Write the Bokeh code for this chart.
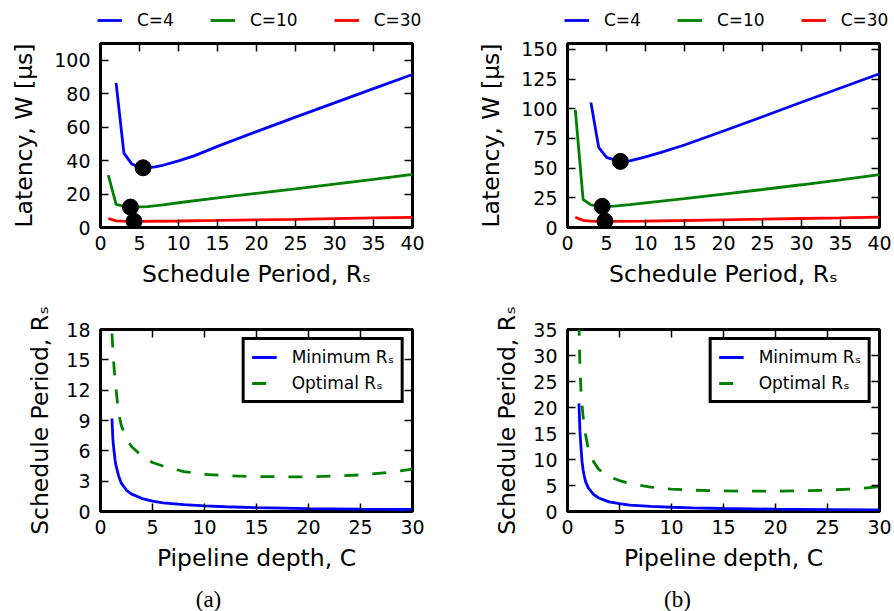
from bokeh.plotting import figure
from bokeh.models import FixedTicker, LinearAxis, Range1d, Legend, LegendItem, Label
from bokeh.layouts import column, row
from bokeh.embed import file_html
from bokeh.resources import INLINE

# ---------------- data ----------------
# (a) latency vs schedule period
rs_a_c4 = [2, 3, 4, 5, 6, 7, 8, 10, 12, 15, 20, 25, 30, 35, 40]
w_a_c4 = [86.5, 44.5, 38.0, 36.0, 35.7, 36.3, 37.2, 39.8, 42.8, 48.5, 57.3, 66.0, 74.5, 83.0, 91.5]
rs_a_c10 = [1, 2, 3, 4, 5, 6, 8, 10, 15, 20, 25, 30, 35, 40]
w_a_c10 = [31.3, 13.8, 12.7, 12.2, 12.3, 12.5, 13.5, 14.8, 17.7, 20.4, 23.1, 25.9, 28.8, 31.8]
rs_a_c30 = [1, 2, 3, 4, 5, 10, 15, 20, 25, 30, 35, 40]
w_a_c30 = [5.4, 4.0, 3.8, 3.7, 3.7, 3.9, 4.2, 4.6, 4.9, 5.3, 5.7, 6.1]
opt_a_rs = [5.46, 3.84, 4.3]
opt_a_w = [35.7, 12.2, 3.7]

# (b) latency vs schedule period
rs_b_c4 = [3, 4, 5, 6, 7, 8, 10, 12, 15, 20, 25, 30, 35, 40]
w_b_c4 = [105.3, 67.5, 59.0, 57.0, 55.8, 56.2, 59.5, 63.3, 69.5, 81.3, 93.3, 105.5, 117.5, 129.5]
rs_b_c10 = [1, 2, 3, 4, 5, 6, 8, 10, 15, 20, 25, 30, 35, 40]
w_b_c10 = [99.0, 23.6, 19.0, 18.0, 17.8, 18.0, 19.2, 20.8, 24.4, 28.2, 32.0, 36.0, 40.2, 44.5]
rs_b_c30 = [1, 2, 3, 4, 5, 10, 15, 20, 25, 30, 35, 40]
w_b_c30 = [8.7, 6.0, 5.3, 5.1, 5.1, 5.4, 5.9, 6.5, 7.0, 7.6, 8.1, 8.7]
opt_b_rs = [6.78, 4.45, 4.8]
opt_b_w = [55.7, 17.8, 5.4]

# (a) schedule period vs pipeline depth
c_min_a = [1.1, 1.2, 1.3, 1.4, 1.5, 1.75, 2, 2.5, 3, 4, 5, 6, 8, 10, 12, 15, 20, 25, 30]
rs_min_a = [9.2, 7.0, 6.0, 5.1, 4.5, 3.5, 2.8, 2.1, 1.72, 1.28, 1.02, 0.86, 0.67, 0.55, 0.47, 0.39, 0.29, 0.23, 0.2]
c_opt_a = [1.1, 1.2, 1.3, 1.4, 1.5, 1.75, 2, 2.5, 3, 4, 5, 6, 8, 10, 12, 15, 20, 25, 28, 30]
rs_opt_a = [17.6, 15.8, 14.3, 13.0, 12.0, 9.7, 8.5, 7.2, 6.4, 5.45, 4.85, 4.5, 3.95, 3.68, 3.55, 3.45, 3.42, 3.62, 3.9, 4.2]

# (b) schedule period vs pipeline depth
c_min_b = [1.1, 1.2, 1.3, 1.4, 1.5, 1.6, 1.75, 2, 2.5, 3, 4, 5, 6, 8, 10, 12, 15, 20, 25, 30]
rs_min_b = [20.8, 15.4, 12.2, 9.6, 8.0, 6.9, 5.7, 4.55, 3.3, 2.6, 1.85, 1.5, 1.22, 0.98, 0.82, 0.7, 0.58, 0.44, 0.36, 0.3]
c_opt_b = [1.1, 1.15, 1.2, 1.3, 1.4, 1.5, 1.75, 2, 2.5, 3, 4, 5, 6, 8, 10, 12, 15, 20, 25, 28, 30]
rs_opt_b = [36.5, 31.5, 27.5, 23.2, 20.4, 18.3, 14.6, 12.1, 9.6, 8.1, 6.7, 5.95, 5.35, 4.7, 4.3, 4.1, 3.95, 3.9, 4.1, 4.4, 4.75]

series_labels = ["C=4", "C=10", "C=30"]
series_colors = ["#0000ff", "#008000", "#ff0000"]
bottom_labels = ["Minimum R\u209b", "Optimal R\u209b"]
xticks_top = [0, 5, 10, 15, 20, 25, 30, 35, 40]
xticks_bot = [0, 5, 10, 15, 20, 25, 30]
yticks_a_top = [0, 20, 40, 60, 80, 100]
yticks_b_top = [0, 25, 50, 75, 100, 125, 150]
yticks_a_bot = [0, 3, 6, 9, 12, 15, 18]
yticks_b_bot = [0, 5, 10, 15, 20, 25, 30, 35]
captions = ["(a)", "(b)"]

FONT = "DejaVu Sans"
TICK_FS = "19px"
LABEL_FS = "23.5px"
LEG_FS = "17px"
LW = 2.8
W = 447


def make_fig(width, height, left, right, top, bottom, xr, yr, xticks, yticks, xlabel, ylabel, ystand):
    p = figure(width=width, height=height, x_range=Range1d(*xr), y_range=Range1d(*yr),
               output_backend="svg", toolbar_location=None, tools="")
    p.min_border_left = left
    p.min_border_right = right
    p.min_border_top = top
    p.min_border_bottom = bottom
    p.grid.visible = False
    p.outline_line_color = "black"
    p.outline_line_width = 3
    p.outline_line_alpha = 1
    p.background_fill_color = "white"
    p.border_fill_color = "white"
    p.xaxis.ticker = FixedTicker(ticks=xticks)
    p.yaxis.ticker = FixedTicker(ticks=yticks)
    p.xaxis.axis_label = xlabel
    p.yaxis.axis_label = ylabel
    for ax in (p.xaxis[0], p.yaxis[0]):
        ax.axis_line_color = None
        ax.major_tick_in = 8
        ax.major_tick_out = 0
        ax.major_tick_line_color = "black"
        ax.major_tick_line_width = 1.5
        ax.minor_tick_line_color = None
        ax.major_label_text_font = FONT
        ax.major_label_text_font_size = TICK_FS
        ax.major_label_text_color = "black"
        ax.axis_label_text_font = FONT
        ax.axis_label_text_font_size = LABEL_FS
        ax.axis_label_text_font_style = "normal"
        ax.axis_label_text_color = "black"
    p.xaxis.major_label_standoff = 8
    p.yaxis.major_label_standoff = 10
    p.xaxis.axis_label_standoff = 7
    p.yaxis.axis_label_standoff = ystand
    for side, t in (("above", xticks), ("right", yticks)):
        ax = LinearAxis(ticker=FixedTicker(ticks=t), axis_line_color=None,
                        major_tick_in=8, major_tick_out=0, major_tick_line_color="black",
                        major_tick_line_width=1.5, minor_tick_line_color=None,
                        major_label_text_font_size="0px", major_label_standoff=0,
                        major_label_text_alpha=0)
        p.add_layout(ax, side)
    return p


def bare_fig(width, height, yr=(0, 1)):
    p = figure(width=width, height=height, x_range=Range1d(0, 1), y_range=Range1d(*yr),
               x_axis_type=None, y_axis_type=None, output_backend="svg",
               toolbar_location=None, tools="", min_border=0)
    p.outline_line_color = None
    p.background_fill_color = "white"
    p.border_fill_color = "white"
    return p


def header(gx, xs, ys):
    # the series are drawn here only to key the legend; the view range hides them
    h = bare_fig(W, 30, yr=(1000, 1001))
    rs = [h.line(x, y, line_color=c, line_width=LW) for x, y, c in zip(xs, ys, series_colors)]
    items = [LegendItem(label=l, renderers=[r]) for l, r in zip(series_labels, rs)]
    leg = Legend(items=items, orientation="horizontal", location=(gx, 0),
                 glyph_width=25, glyph_height=18, label_height=18, label_standoff=15,
                 spacing=36, padding=0, margin=0, border_line_color=None,
                 background_fill_alpha=0, label_text_font=FONT, label_text_font_size=LEG_FS,
                 label_text_color="black")
    h.add_layout(leg)
    return h


def footer(text, cx):
    f = bare_fig(W, 31)
    f.add_layout(Label(x=cx, y=12, x_units="screen", y_units="screen", text=text,
                       text_font="Liberation Serif", text_font_size="23px",
                       text_align="center", text_baseline="middle", text_color="black"))
    return f


def top_panel(p, xs, ys, ox, oy):
    for x, y, c in zip(xs, ys, series_colors):
        p.line(x, y, line_color=c, line_width=LW)
    p.scatter(ox, oy, size=16, fill_color="black", line_color="black", marker="circle")


def bottom_panel(p, cm, rm, co, ro):
    r1 = p.line(cm, rm, line_color="#0000ff", line_width=LW)
    r2 = p.line(co, ro, line_color="#008000", line_width=LW, line_dash="14 14")
    leg = Legend(items=[LegendItem(label=bottom_labels[0], renderers=[r1]),
                        LegendItem(label=bottom_labels[1], renderers=[r2])],
                 location="top_right", margin=8, padding=7, spacing=6,
                 glyph_width=25, glyph_height=20, label_height=20, label_standoff=15,
                 border_line_color="black", border_line_width=3, border_line_alpha=1,
                 background_fill_color="white", background_fill_alpha=1,
                 label_text_font=FONT, label_text_font_size=LEG_FS, label_text_color="black")
    p.add_layout(leg)


top_a_x = [rs_a_c4, rs_a_c10, rs_a_c30]
top_a_y = [w_a_c4, w_a_c10, w_a_c30]
top_b_x = [rs_b_c4, rs_b_c10, rs_b_c30]
top_b_y = [w_b_c4, w_b_c10, w_b_c30]

# top-left
p1 = make_fig(W, 270, 100, 35, 13, 71, (0, 40), (0, 110), xticks_top, yticks_a_top,
              "Schedule Period, R\u209b", "Latency, W [\u00b5s]", 13)
top_panel(p1, top_a_x, top_a_y, opt_a_rs, opt_a_w)
# top-right
p2 = make_fig(W, 270, 120, 15, 13, 73, (0, 40), (0, 155), xticks_top, yticks_b_top,
              "Schedule Period, R\u209b", "Latency, W [\u00b5s]", 13)
top_panel(p2, top_b_x, top_b_y, opt_b_rs, opt_b_w)
# bottom-left
p3 = make_fig(W, 280, 100, 35, 29, 67, (0, 30), (0, 18), xticks_bot, yticks_a_bot,
              "Pipeline depth, C", "Schedule Period, R\u209b", 9)
bottom_panel(p3, c_min_a, rs_min_a, c_opt_a, rs_opt_a)
# bottom-right
p4 = make_fig(W, 280, 120, 15, 27, 69, (0, 30), (0, 35), xticks_bot, yticks_b_bot,
              "Pipeline depth, C", "Schedule Period, R\u209b", 9)
bottom_panel(p4, c_min_b, rs_min_b, c_opt_b, rs_opt_b)

layout = column(row(header(97, top_a_x, top_a_y), header(117, top_b_x, top_b_y)),
                row(p1, p2),
                row(p3, p4),
                row(footer(captions[0], 208), footer(captions[1], 230)))
open("out.html", "w").write(file_html(layout, INLINE))
